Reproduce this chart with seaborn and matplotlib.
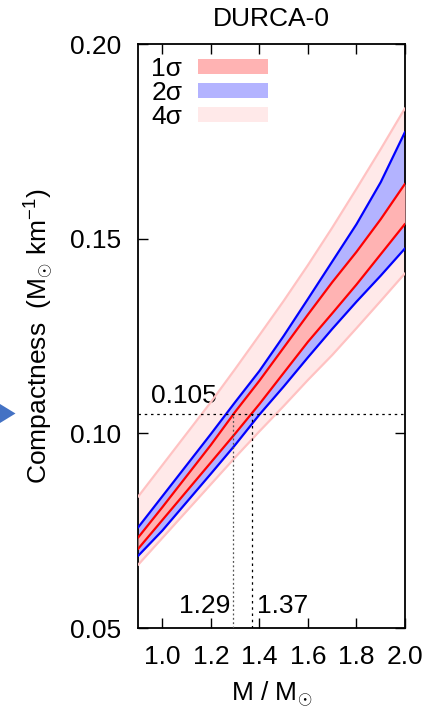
import numpy as np
import pandas as pd
import matplotlib
matplotlib.use("Agg")
import matplotlib.pyplot as plt
import seaborn as sns
from matplotlib.patches import Patch, Polygon

# ---- data ----
mass = [0.9, 1.0, 1.1, 1.2, 1.3, 1.4, 1.5, 1.6, 1.7, 1.8, 1.9, 2.0]
sig4_high = [0.0837, 0.0918, 0.0999, 0.1080, 0.1165, 0.1252, 0.1340, 0.1432, 0.1528, 0.1628, 0.1730, 0.1835]
sig2_high = [0.0758, 0.0838, 0.0918, 0.0998, 0.1080, 0.1160, 0.1250, 0.1345, 0.1441, 0.1537, 0.1645, 0.1774]
sig1_high = [0.0732, 0.0810, 0.0890, 0.0970, 0.1055, 0.1135, 0.1220, 0.1305, 0.1388, 0.1466, 0.1550, 0.1641]
sig1_low = [0.0703, 0.0777, 0.0851, 0.0925, 0.0999, 0.1075, 0.1155, 0.1235, 0.1308, 0.1382, 0.1460, 0.1538]
sig2_low = [0.0685, 0.0750, 0.0823, 0.0896, 0.0970, 0.1048, 0.1120, 0.1195, 0.1268, 0.1338, 0.1405, 0.1475]
sig4_low = [0.0662, 0.0731, 0.0800, 0.0869, 0.0938, 0.1005, 0.1070, 0.1137, 0.1201, 0.1270, 0.1340, 0.1411]

legend_labels = ["1σ", "2σ", "4σ"]
xticks = [1.0, 1.2, 1.4, 1.6, 1.8, 2.0]
xtick_labels = ["1.0", "1.2", "1.4", "1.6", "1.8", "2.0"]
yticks = [0.05, 0.10, 0.15, 0.20]
ytick_labels = ["0.05", "0.10", "0.15", "0.20"]
ref_compact = 0.105
ref_masses = [1.29, 1.37]
title = "DURCA-0"

# ---- style ----
sns.set_theme(style="ticks")
plt.rcParams["font.family"] = ["Liberation Sans", "DejaVu Sans"]
plt.rcParams["mathtext.fontset"] = "custom"
plt.rcParams["mathtext.rm"] = "Liberation Sans"
plt.rcParams["mathtext.it"] = "Liberation Sans:italic"
plt.rcParams["mathtext.bf"] = "Liberation Sans:bold"
for key in ["text.color", "axes.labelcolor", "xtick.color", "ytick.color", "axes.edgecolor"]:
    plt.rcParams[key] = "black"
FS = 19

c1_fill = "#ffb3b3"
c2_fill = "#b3b3ff"
c4_fill = "#ffe9e9"
c4_line = "#ffc2c2"

fig = plt.figure(figsize=(4.39, 7.08), dpi=100)
ax = fig.add_axes([138 / 439, 1 - 628 / 708, (405 - 138) / 439, (628 - 44) / 708])

ax.fill_between(mass, sig4_low, sig4_high, color=c4_fill, lw=0, zorder=1)
ax.fill_between(mass, sig2_low, sig2_high, color=c2_fill, lw=0, zorder=2)
ax.fill_between(mass, sig1_low, sig1_high, color=c1_fill, lw=0, zorder=3)

for arr, col, lw in [(sig4_high, c4_line, 1.6), (sig4_low, c4_line, 1.6),
                     (sig2_high, "#0000ff", 1.6), (sig2_low, "#0000ff", 1.6),
                     (sig1_high, "#ff0000", 1.6), (sig1_low, "#ff0000", 1.6)]:
    sns.lineplot(x=mass, y=arr, color=col, lw=lw, ax=ax, zorder=4)

# reference lines
ax.axhline(ref_compact, color="black", lw=0.9, ls=(0, (2, 3)), zorder=5)
ax.vlines(ref_masses[0], 0.05, ref_compact, color="#555555", lw=0.9, ls=(0, (1.5, 2)), zorder=5)
ax.vlines(ref_masses[1], 0.05, ref_compact, color="black", lw=0.9, ls=(0, (2, 3)), zorder=5)

ax.text(0.952, 0.1077, f"{ref_compact:.3f}", fontsize=FS, ha="left", va="baseline")
ax.text(ref_masses[0] - 0.011, 0.0538, f"{ref_masses[0]:.2f}", fontsize=FS, ha="right", va="baseline")
ax.text(ref_masses[1] + 0.019, 0.0538, f"{ref_masses[1]:.2f}", fontsize=FS, ha="left", va="baseline")

ax.set_xlim(0.9, 2.0)
ax.set_ylim(0.05, 0.20)
ax.set_xticks(xticks)
ax.set_xticklabels(xtick_labels)
ax.set_yticks(yticks)
ax.set_yticklabels(ytick_labels)
ax.tick_params(direction="in", length=7, width=1, top=True, right=True,
               labelsize=FS, pad=12, color="black", labelcolor="black")
for s in ax.spines.values():
    s.set_visible(True)
    s.set_linewidth(1.3)
    s.set_color("black")

ax.set_xlabel(r"M / M$_{\odot}$", fontsize=FS, labelpad=8)
ax.set_ylabel(r"Compactness  (M$_{\odot}$ km$^{-1}$)", fontsize=FS, labelpad=10)
ax.set_title(title, fontsize=FS, pad=13)

handles = [Patch(facecolor=c1_fill, edgecolor="none"),
           Patch(facecolor=c2_fill, edgecolor="none"),
           Patch(facecolor=c4_fill, edgecolor="none")]
leg = ax.legend(handles, legend_labels, loc="upper left", frameon=False, markerfirst=False,
                fontsize=FS, handlelength=2.65, handleheight=0.5, handletextpad=0.6,
                labelspacing=0.0, borderaxespad=0.3, borderpad=0.2)
for t in leg.get_texts():
    t.set_color("black")

# decorative arrow at the left edge
tri = Polygon([[0 / 439, 1 - 404 / 708], [0 / 439, 1 - 423 / 708], [15.5 / 439, 1 - 413.5 / 708]],
              closed=True, transform=fig.transFigure, facecolor="#4472c4", edgecolor="none")
fig.patches.append(tri)

fig.savefig("out.png", dpi=100)
